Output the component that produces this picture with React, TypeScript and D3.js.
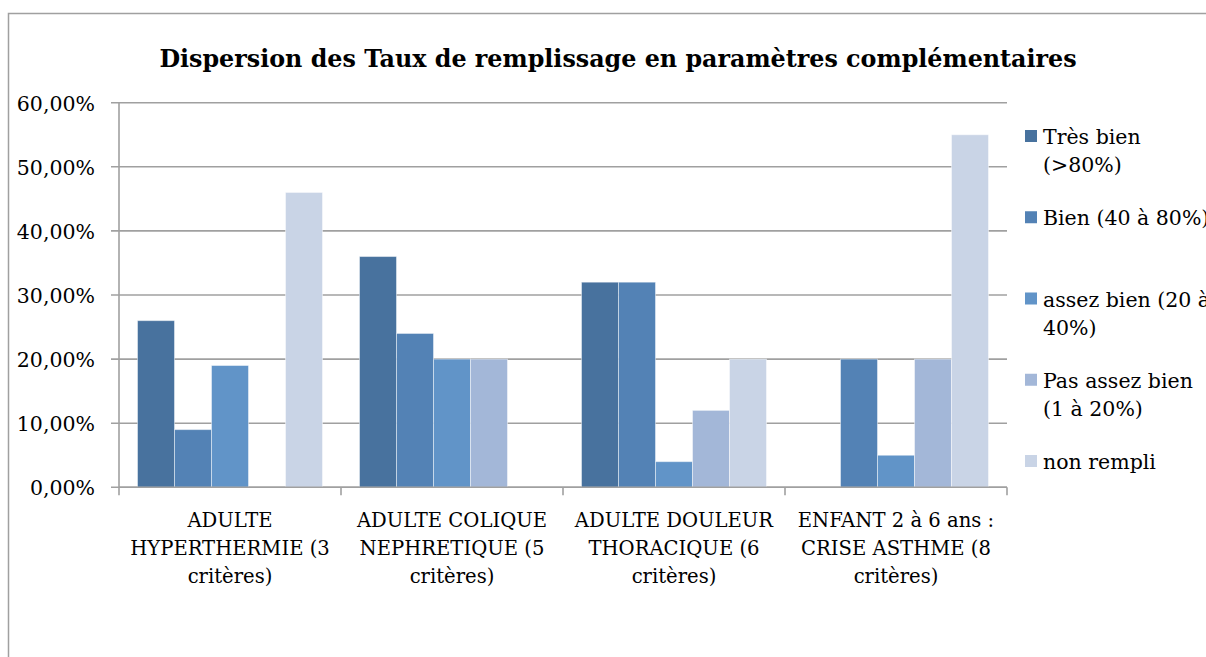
import React from 'react';
import * as d3 from 'd3';

// categories (x axis), each label split on lines as in the original
const categories = ['adulte_hyper', 'adulte_colique', 'adulte_douleur', 'enfant_asthme'];
const categoryLabels = [
  ['ADULTE', 'HYPERTHERMIE (3', 'critères)'],
  ['ADULTE COLIQUE', 'NEPHRETIQUE (5', 'critères)'],
  ['ADULTE DOULEUR', 'THORACIQUE (6', 'critères)'],
  ['ENFANT 2 à 6 ans :', 'CRISE ASTHME (8', 'critères)'],
];

const seriesNames = ['Très bien (>80%)', 'Bien (40 à 80%)', 'assez bien (20 à 40%)', 'Pas assez bien (1 à 20%)', 'non rempli'];
const legendLines = [
  ['Très bien', '(>80%)'],
  ['Bien (40 à 80%)'],
  ['assez bien (20 à', '40%)'],
  ['Pas assez bien', '(1 à 20%)'],
  ['non rempli'],
];
const seriesColors = ['#48729e', '#5382b5', '#6194c8', '#a3b7d8', '#c9d4e6'];

// values per series, one per category
const tresBien = [0.26, 0.36, 0.32, 0];
const bien = [0.09, 0.24, 0.32, 0.20];
const assezBien = [0.19, 0.20, 0.04, 0.05];
const pasAssezBien = [0, 0.20, 0.12, 0.20];
const nonRempli = [0.46, 0, 0.20, 0.55];
const seriesValues = [tresBien, bien, assezBien, pasAssezBien, nonRempli];

const yTicks = [0, 0.1, 0.2, 0.3, 0.4, 0.5, 0.6];

const W = 1206;
const H = 657;
const FONT = 'DejaVu Serif';

const App = () => {
  const left = 119;
  const right = 1007;
  const top = 102.7;
  const bottom = 487.3;

  const y = d3.scaleLinear().domain([0, 0.6]).range([bottom, top]);
  const x0 = d3.scaleBand().domain(categories).range([left, right]).padding(0);
  const x1 = d3.scaleBand().domain(seriesNames).range([0, x0.bandwidth()]).paddingInner(0).paddingOuter(0.5);
  const legendY = d3.scalePoint().domain(seriesNames).range([136, 461]);
  const fmt = (v: number) => d3.format('.2f')(v * 100).replace('.', ',') + '%';

  const axisColor = '#a0a0a0';

  return (
    <svg width={W} height={H} style={{ position: 'absolute', left: 0, top: 0, fontFamily: FONT }}>
      <rect x={0} y={0} width={W} height={H} fill="#fff" />
      <rect x={8.5} y={13.5} width={W + 10} height={H + 10} fill="none" stroke={axisColor} strokeWidth={1.5} />

      <text x={618} y={67} textAnchor="middle" fontSize={23.8} fontWeight="bold" fill="#000">
        Dispersion des Taux de remplissage en paramètres complémentaires
      </text>

      {/* gridlines + y labels */}
      {yTicks.map((t) => (
        <g key={t}>
          <line x1={left - 8} x2={right} y1={y(t)} y2={y(t)} stroke={axisColor} strokeWidth={1.6} />
          <text x={95} y={y(t) + 8} textAnchor="end" fontSize={20.5} fill="#000">
            {fmt(t)}
          </text>
        </g>
      ))}
      <line x1={left} x2={left} y1={top} y2={bottom} stroke={axisColor} strokeWidth={1.6} />

      {/* bars */}
      {categories.map((c, ci) => (
        <g key={c} transform={`translate(${x0(c)},0)`}>
          {seriesNames.map((s, si) => {
            const v = seriesValues[si][ci];
            if (!v) return null;
            return (
              <rect
                key={s}
                x={x1(s)}
                y={y(v)}
                width={x1.bandwidth()}
                height={y(0) - y(v)}
                fill={seriesColors[si]}
                stroke="rgba(255,255,255,0.45)"
                strokeWidth={1}
              />
            );
          })}
        </g>
      ))}

      {/* x axis */}
      <line x1={left} x2={right} y1={bottom} y2={bottom} stroke={axisColor} strokeWidth={1.6} />
      {[...categories.map((c) => x0(c) as number), right].map((xv, i) => (
        <line key={i} x1={xv} x2={xv} y1={bottom} y2={bottom + 8} stroke={axisColor} strokeWidth={1.6} />
      ))}
      {categories.map((c, ci) => (
        <text key={c} textAnchor="middle" fontSize={19.6} fill="#000">
          {categoryLabels[ci].map((line, li) => (
            <tspan key={li} x={(x0(c) as number) + x0.bandwidth() / 2} y={527 + li * 28}>
              {line}
            </tspan>
          ))}
        </text>
      ))}

      {/* legend */}
      {seriesNames.map((s, si) => {
        const ly = legendY(s) as number;
        return (
          <g key={s}>
            <rect x={1025} y={ly - 6} width={12} height={12} fill={seriesColors[si]} />
            <text fontSize={20.5} fill="#000">
              {legendLines[si].map((line, li) => (
                <tspan key={li} x={1043} y={ly + 8 + li * 28}>
                  {line}
                </tspan>
              ))}
            </text>
          </g>
        );
      })}
    </svg>
  );
};

export default App;
